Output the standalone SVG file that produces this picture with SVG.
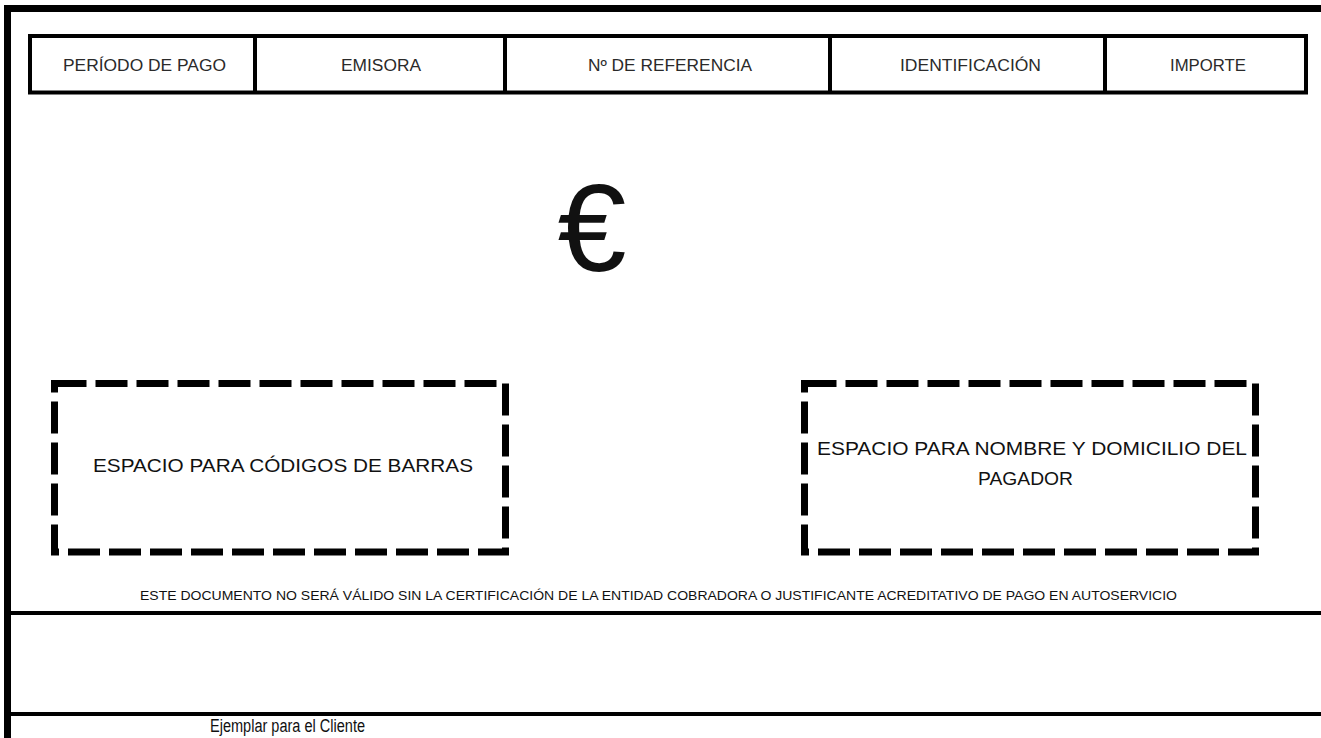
<svg xmlns="http://www.w3.org/2000/svg" width="1321" height="738" viewBox="0 0 1321 738">
<style>
.t{font-family:"Liberation Sans",Arial,sans-serif;fill:#111;text-anchor:middle}
.h{font-size:16px;fill:#2a2a2a}
.frame{stroke:#000;fill:none}
.dash{stroke:#000;fill:none;stroke-width:7;stroke-dasharray:32 9}
</style>
<rect width="1321" height="738" fill="#fff"/>
<g id="frame">
<line class="frame" x1="7.5" y1="5" x2="7.5" y2="738" stroke-width="7"/>
<line class="frame" x1="4" y1="8.5" x2="1321" y2="8.5" stroke-width="7"/>
<line class="frame" x1="11" y1="613" x2="1321" y2="613" stroke-width="4"/>
<line class="frame" x1="11" y1="714" x2="1321" y2="714" stroke-width="4"/>
</g>
<g id="header">
<rect class="frame" x="30" y="36" width="1276" height="56.5" stroke-width="4"/>
<line class="frame" x1="255" y1="36" x2="255" y2="92.5" stroke-width="4"/>
<line class="frame" x1="505" y1="36" x2="505" y2="92.5" stroke-width="4"/>
<line class="frame" x1="830" y1="36" x2="830" y2="92.5" stroke-width="4"/>
<line class="frame" x1="1105" y1="36" x2="1105" y2="92.5" stroke-width="4"/>
<text class="t h" x="144.5" y="71" textLength="163" lengthAdjust="spacingAndGlyphs">PERÍODO DE PAGO</text>
<text class="t h" x="381" y="71" textLength="80" lengthAdjust="spacingAndGlyphs">EMISORA</text>
<text class="t h" x="670" y="71" textLength="164" lengthAdjust="spacingAndGlyphs">Nº DE REFERENCIA</text>
<text class="t h" x="970.5" y="71" textLength="141" lengthAdjust="spacingAndGlyphs">IDENTIFICACIÓN</text>
<text class="t h" x="1208" y="71" textLength="76" lengthAdjust="spacingAndGlyphs">IMPORTE</text>
</g>
<g id="euro">
<text class="t" x="592" y="271" font-size="124" fill="#000">€</text>
</g>
<g id="barcode-box">
<rect class="dash" x="54.5" y="383.5" width="451" height="168.5"/>
<text class="t" x="283" y="472" font-size="19" textLength="380" lengthAdjust="spacingAndGlyphs">ESPACIO PARA CÓDIGOS DE BARRAS</text>
</g>
<g id="payer-box">
<rect class="dash" x="804.5" y="383.5" width="451" height="168.5"/>
<text class="t" x="1032" y="455" font-size="19" textLength="430" lengthAdjust="spacingAndGlyphs">ESPACIO PARA NOMBRE Y DOMICILIO DEL</text>
<text class="t" x="1025.5" y="485" font-size="19" textLength="95" lengthAdjust="spacingAndGlyphs">PAGADOR</text>
</g>
<g id="notice">
<text class="t" x="658.5" y="600" font-size="13" fill="#2a2a2a" textLength="1037" lengthAdjust="spacingAndGlyphs">ESTE DOCUMENTO NO SERÁ VÁLIDO SIN LA CERTIFICACIÓN DE LA ENTIDAD COBRADORA O JUSTIFICANTE ACREDITATIVO DE PAGO EN AUTOSERVICIO</text>
</g>
<g id="footer">
<text class="t" x="287.5" y="732" font-size="18" textLength="155" lengthAdjust="spacingAndGlyphs">Ejemplar para el Cliente</text>
</g>
</svg>
